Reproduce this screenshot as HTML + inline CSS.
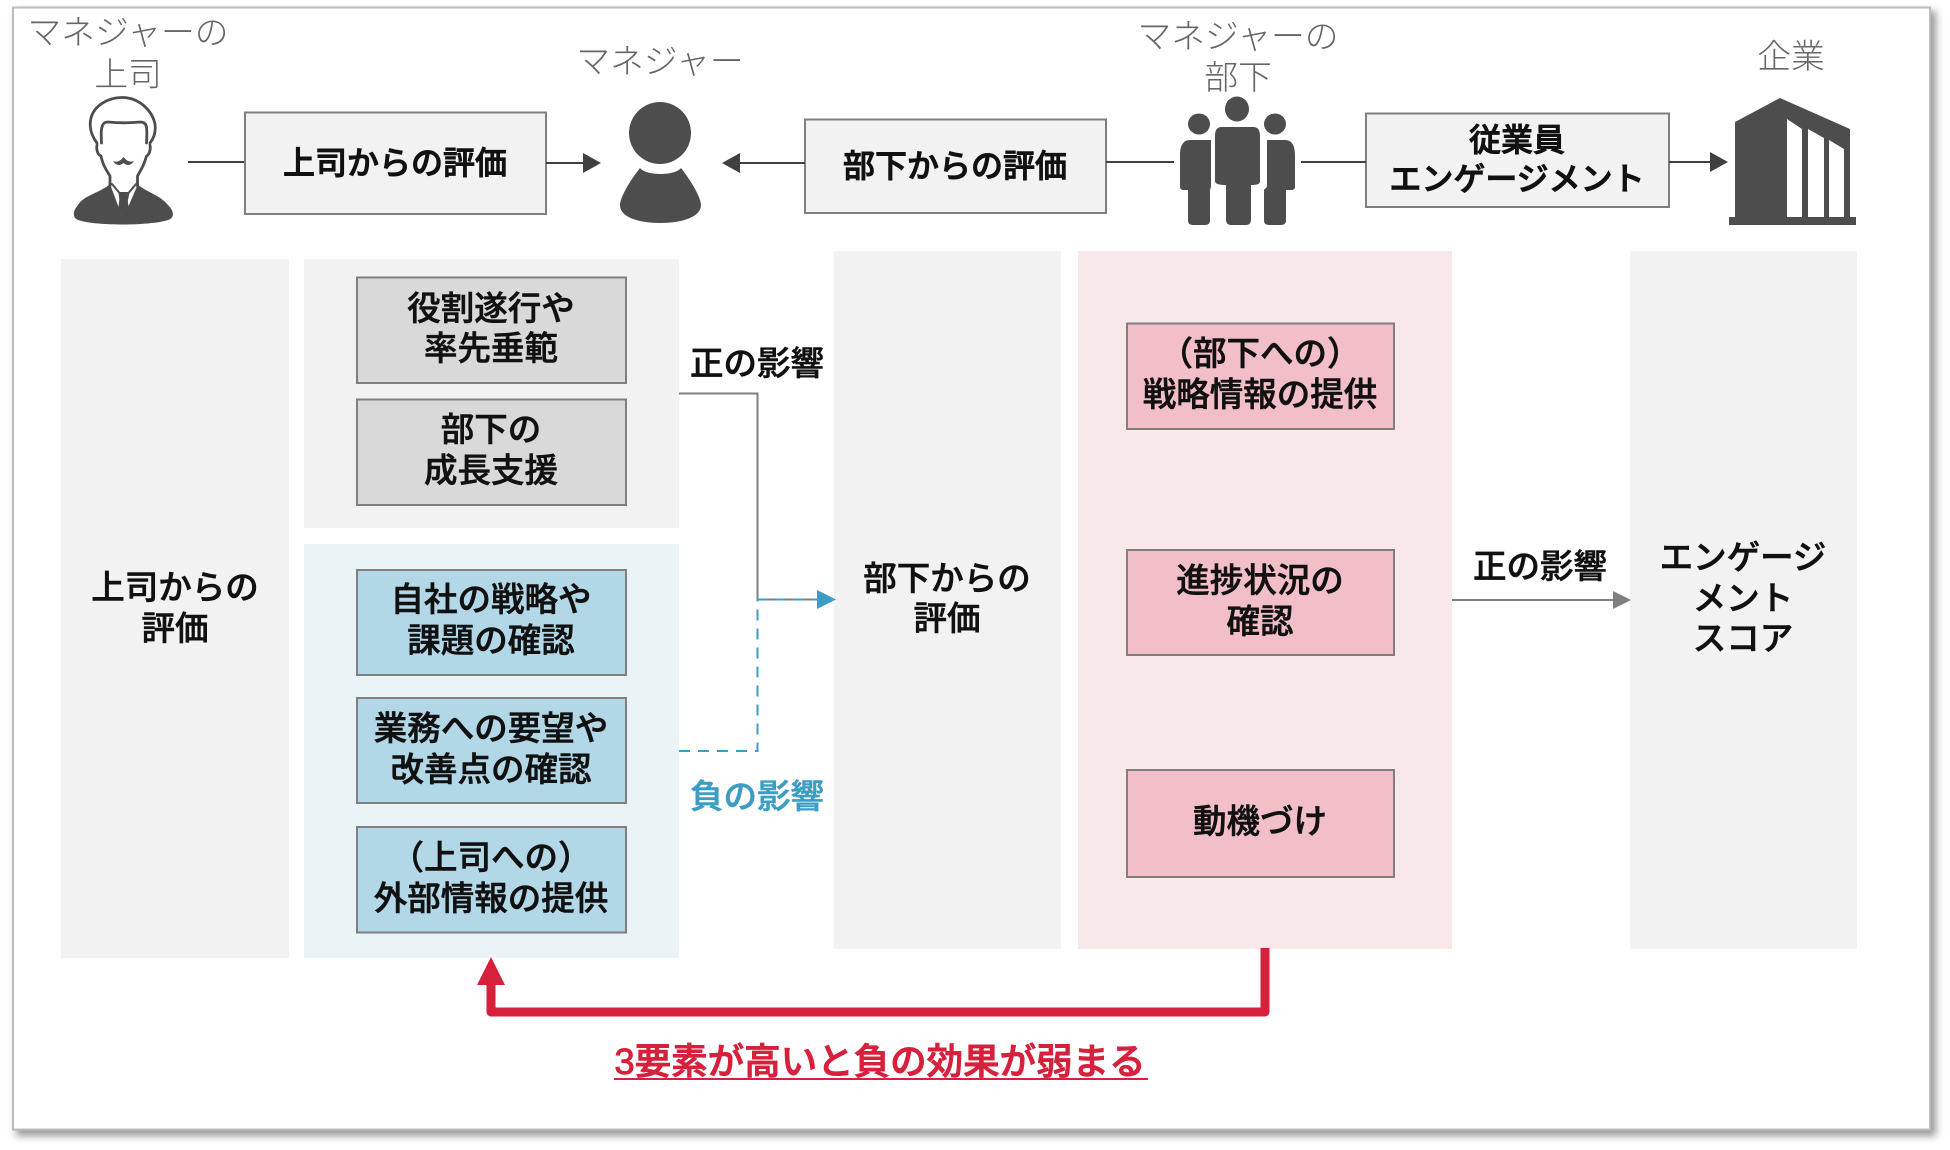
<!DOCTYPE html>
<html><head><meta charset="utf-8"><style>
html,body{margin:0;padding:0;background:#fff;width:1950px;height:1150px;overflow:hidden}
svg{display:block}
text{font-family:"Liberation Sans","Noto Sans CJK JP",sans-serif;text-anchor:middle}
.b{font-size:33.5px;font-weight:500;fill:#111;stroke:#111;stroke-width:.6px}
.t{font-size:32px;stroke-width:.9px}
.l{font-size:33.8px;font-weight:300;fill:#666}
.bx{stroke:#7f7f7f;stroke-width:2}
</style></head><body>
<svg width="1950" height="1150" viewBox="0 0 1950 1150" xmlns="http://www.w3.org/2000/svg">
<defs><filter id="s" x="-3%" y="-3%" width="106%" height="106%"><feGaussianBlur stdDeviation="4"/></filter></defs>
<rect x="16" y="11" width="1920" height="1125" fill="#999" filter="url(#s)"/>
<rect x="13" y="7.500" width="1917" height="1122" fill="#fff" stroke="#bdbdbd" stroke-width="2"/>

<!-- panels -->
<rect x="61" y="259" width="228" height="699" fill="#f2f2f2"/>
<rect x="304" y="259" width="375" height="269" fill="#f2f2f2"/>
<rect x="304" y="544" width="375" height="414" fill="#eaf4f7"/>
<rect x="834" y="251" width="227" height="698" fill="#f2f2f2"/>
<rect x="1078" y="251" width="374" height="698" fill="#f9e8ea"/>
<rect x="1630" y="251" width="227" height="698" fill="#f2f2f2"/>

<!-- inner boxes -->
<g class="bx">
<rect x="357" y="277.500" width="269" height="105.500" fill="#d9d9d9"/>
<rect x="357" y="399.500" width="269" height="105.500" fill="#d9d9d9"/>
<rect x="357" y="570" width="269" height="105" fill="#b2d7e6"/>
<rect x="357" y="698" width="269" height="105" fill="#b2d7e6"/>
<rect x="357" y="827" width="269" height="105.500" fill="#b2d7e6"/>
<rect x="1127" y="323.500" width="267" height="105.500" fill="#f2bfc8"/>
<rect x="1127" y="550" width="267" height="105" fill="#f2bfc8"/>
<rect x="1127" y="770" width="267" height="107" fill="#f2bfc8"/>
<rect x="245" y="112.500" width="301" height="101.500" fill="#f2f2f2"/>
<rect x="805" y="119.500" width="301" height="93.500" fill="#f2f2f2"/>
<rect x="1366" y="113.500" width="303" height="93.500" fill="#f2f2f2"/>
</g>

<!-- top connectors -->
<g stroke="#404040" stroke-width="2" fill="none">
<path d="M188 162H244"/><path d="M546 163H586"/><path d="M805 163H735"/>
<path d="M1106 162H1174"/><path d="M1301 162H1366"/><path d="M1669 162H1712"/>
</g>
<g fill="#404040">
<path d="M583 153L601 163L583 173Z"/>
<path d="M740 153L722 163L740 173Z"/>
<path d="M1710 152L1728 162L1710 172Z"/>
</g>

<!-- boss icon -->
<path d="M110 184C100 193 84 195 78 205C72 212 73 218 78 220C95 226 150 226 168 220C174 218 175 212 168 205C160 195 146 192 137 184Z" fill="#4d4d4d"/>
<path d="M110 184L123 219L138 184Z" fill="#fff"/>
<g fill="none" stroke="#4d4d4d" stroke-width="2.800" stroke-linejoin="round" stroke-linecap="round">
<path d="M97 143C91 135 89 126 91 118C94 106 108 97 123 97.500C139 98 152 110 155 124C156 132 154 138 150 143"/>
<path d="M101.500 143C101 135 101 130 102 127C103 123 105 122 108 122C118 123 130 123 140 122C144 122 146 124 146.500 127C147 132 147 137 146.500 143"/>
<path d="M97 145C96 150 98 155 101 156C103 165 105 168 110 176V186"/>
<path d="M150 145C151 150 149 155 146.500 156C144 165 142 168 137.500 176V186"/>
<path d="M112 184L119.500 193L123 218L128.500 193L136 184" stroke-width="2"/>
<path d="M119.500 193H128.500" stroke-width="2"/>
</g>
<path d="M113 161C118 163 121 160 123.500 157C126 160 129 163 134 161C130 167 126 165 123.500 163C121 165 117 167 113 161Z" fill="#4d4d4d"/>
<path d="M120 194H127L129 211L123.500 217L118 211Z" fill="#4d4d4d"/>

<!-- manager icon -->
<g fill="#4d4d4d">
<ellipse cx="660" cy="133" rx="31" ry="31"/>
<path d="M640 168C646 176 675 176 681 168C692 182 701 198 701 205C701 217 682 223 660 223C638 223 620 217 620 205C620 198 629 182 640 168Z"/>
</g>

<!-- group icon -->
<g fill="#4d4d4d">
<ellipse cx="1237" cy="109" rx="12" ry="12.500"/>
<ellipse cx="1199" cy="124" rx="11" ry="10.500"/>
<ellipse cx="1275" cy="124" rx="11" ry="10.500"/>
<path d="M1222 127H1253C1258 127 1260 130 1260 136V181C1260 184 1258 185 1251 185V219C1251 224 1249 225 1245 225H1232C1228 225 1226 224 1226 219V185C1219 185 1215 184 1215 181V136C1215 130 1217 127 1222 127Z"/>
<path d="M1190 140H1211V186C1211 188 1210 189 1210 190V220C1210 224 1208 225 1204 225H1194C1190 225 1188 224 1188 220V190H1184C1181 190 1180 189 1180 186V155C1180 146 1183 140 1190 140Z"/>
<path d="M1267 140H1285C1292 140 1295 146 1295 155V186C1295 189 1294 190 1291 190H1286V220C1286 224 1284 225 1280 225H1270C1266 225 1264 224 1264 220V190C1264 189 1267 188 1267 186Z"/>
</g>

<!-- building icon -->
<path d="M1735 122L1780 98L1850 129V217H1856V225H1729V217H1735Z" fill="#4d4d4d"/>
<g fill="#fff">
<path d="M1787 119L1802 129V217H1787Z"/>
<path d="M1808 129L1824 138V217H1808Z"/>
<path d="M1829 140L1844 149V217H1829Z"/>
</g>

<!-- middle connectors -->
<path d="M679 393.500H757.500V599.500H817" fill="none" stroke="#7f7f7f" stroke-width="2"/>
<path d="M679 751H757.500V599.500H820" fill="none" stroke="#3d9cc4" stroke-width="2" stroke-dasharray="11 8"/>
<path d="M817 590L836 599.500L817 609Z" fill="#3d9cc4"/>
<path d="M1452 600H1615" stroke="#7f7f7f" stroke-width="2" fill="none"/>
<path d="M1613 591L1631 600L1613 609Z" fill="#7f7f7f"/>

<!-- red arrow -->
<path d="M1265 948V1012H491V982" fill="none" stroke="#d7213c" stroke-width="9" stroke-linejoin="round"/>
<path d="M491 957L505 985H477Z" fill="#d7213c"/>

<!-- light labels -->
<text class="l" x="128" y="44">マネジャーの</text>
<text class="l" x="128" y="86">上司</text>
<text class="l" x="660" y="73">マネジャー</text>
<text class="l" x="1238" y="48">マネジャーの</text>
<text class="l" x="1238" y="89">部下</text>
<text class="l" x="1791" y="68">企業</text>

<!-- top boxes -->
<text class="b t" x="395" y="174">上司からの評価</text>
<text class="b t" x="955" y="177">部下からの評価</text>
<text class="b t" x="1517" y="151">従業員</text>
<text class="b t" x="1517" y="190">エンゲージメント</text>

<!-- left -->
<text class="b" x="175" y="599">上司からの</text>
<text class="b" x="175" y="640">評価</text>

<text class="b" x="491" y="320">役割遂行や</text>
<text class="b" x="491" y="360">率先垂範</text>
<text class="b" x="491" y="441">部下の</text>
<text class="b" x="491" y="482">成長支援</text>
<text class="b" x="491" y="611">自社の戦略や</text>
<text class="b" x="491" y="652">課題の確認</text>
<text class="b" x="491" y="740">業務への要望や</text>
<text class="b" x="491" y="781">改善点の確認</text>
<text class="b" x="491" y="869">（上司への）</text>
<text class="b" x="491" y="910">外部情報の提供</text>

<text class="b" x="757" y="375">正の影響</text>
<text class="b" x="757" y="808" style="fill:#3d9cc4;stroke:#3d9cc4">負の影響</text>

<text class="b" x="947" y="590">部下からの</text>
<text class="b" x="947" y="630">評価</text>

<text class="b" x="1260" y="365">（部下への）</text>
<text class="b" x="1260" y="406">戦略情報の提供</text>
<text class="b" x="1260" y="592">進捗状況の</text>
<text class="b" x="1260" y="633">確認</text>
<text class="b" x="1260" y="833">動機づけ</text>

<text class="b" x="1540" y="578">正の影響</text>

<text class="b" x="1743" y="569">エンゲージ</text>
<text class="b" x="1743" y="610">メント</text>
<text class="b" x="1743" y="650">スコア</text>

<text class="b" x="880" y="1074" style="font-size:36.500px;fill:#d7213c;stroke:#d7213c;stroke-width:.9px">3要素が高いと負の効果が弱まる</text>
<rect x="614" y="1078" width="534" height="2" fill="#d7213c"/>
</svg>
</body></html>
